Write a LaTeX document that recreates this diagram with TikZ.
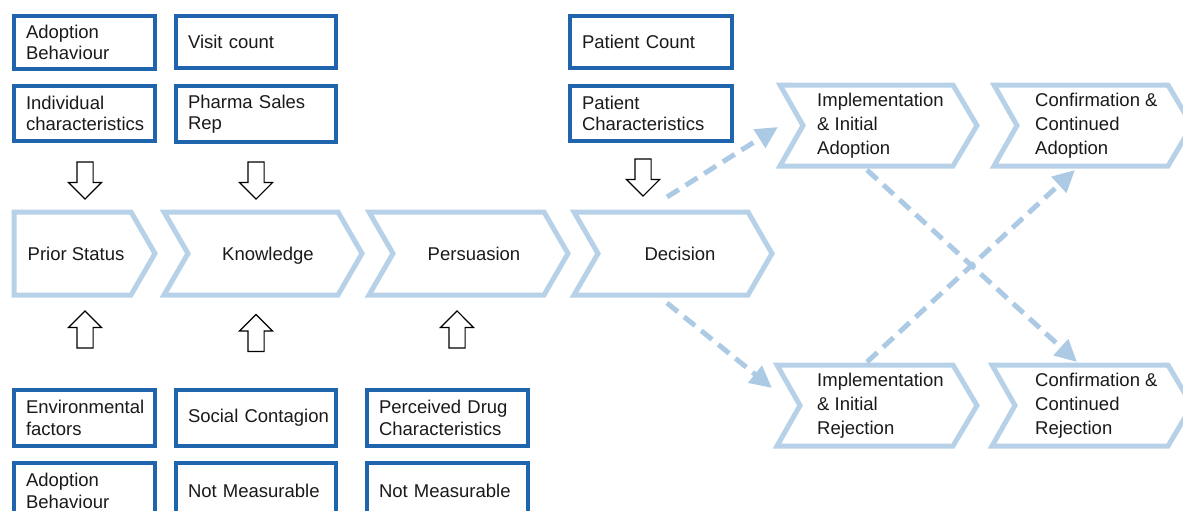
\documentclass[tikz,border=0pt]{standalone}
\usepackage{fontspec}
\setmainfont{Liberation Sans}
\usetikzlibrary{arrows.meta,shapes.arrows}
\definecolor{boxblue}{HTML}{1F64AD}
\definecolor{chevblue}{HTML}{B7D1E8}
\definecolor{dashblue}{HTML}{ADCAE4}
\definecolor{inktext}{HTML}{1A1A1A}

% chevron outline: left, right, top, bottom, depth of the left notch (0 = flat)
\newcommand\chevronpath[5]{%
  \draw[chevline] (#1,#3) -- ({#2-24},#3) -- (#2,{(#3+#4)/2})
    -- ({#2-24},#4) -- (#1,#4) -- ({#1+#5},{(#3+#4)/2}) -- cycle;}

\begin{document}
\begin{tikzpicture}[x=1pt,y=-1pt,
  chevline/.style={draw=chevblue, line width=5pt, fill=white, line join=miter},
  chevtext/.style={inner sep=0pt, align=left, text=inktext,
    font=\fontsize{18.5}{24}\selectfont},
  factbox/.style={draw=boxblue, line width=4pt, fill=white, anchor=north west,
    inner xsep=12pt, inner ysep=0pt, align=left, text=inktext,
    font=\fontsize{18.5}{21.5}\selectfont,
    execute at begin node={\hyphenpenalty=10000\exhyphenpenalty=10000\hfuzz=20pt}},
  blockarrow/.style={single arrow, draw=black, fill=white, line width=1.1pt,
    minimum height=37pt, minimum width=32pt, single arrow head extend=8.5pt,
    inner sep=7.5pt},
  dasharrow/.style={draw=dashblue, line width=5pt, dash pattern=on 14pt off 8pt,
    -{Triangle[length=22pt,width=21pt]}}]
\useasboundingbox (0,0) rectangle (1183,511);
\begin{scope}
\clip (0,0) rectangle (1183,511);

% stage chevrons
\chevronpath{14}{155}{212}{295}{0}
\chevronpath{164}{362}{212}{295}{24}
\chevronpath{369}{568}{212}{295}{24}
\chevronpath{574}{772}{212}{295}{24}
\chevronpath{780}{977}{85}{166}{23}
\chevronpath{994}{1192}{85}{166}{23}
\chevronpath{777}{977}{365}{446}{23}
\chevronpath{992}{1192}{365}{446}{23}

\node[chevtext, anchor=base] (prior) at (76,260) {Prior Status};
\node[chevtext, anchor=base] (know) at (268,260) {Knowledge};
\node[chevtext, anchor=base] (pers) at (474,260) {Persuasion};
\node[chevtext, anchor=base] (dec) at (680,260) {Decision};
\node[chevtext, anchor=west] (implA) at (817,126) {Implementation\\\& Initial\\Adoption};
\node[chevtext, anchor=west] (confA) at (1035,126) {Confirmation \&\\Continued\\Adoption};
\node[chevtext, anchor=west] (implR) at (817,406) {Implementation\\\& Initial\\Rejection};
\node[chevtext, anchor=west] (confR) at (1035,406) {Confirmation \&\\Continued\\Rejection};

% measured factors
\node[factbox, minimum width=141pt, minimum height=53pt, text width=117pt] (bhvA) at (12,14) {Adoption\\Behaviour};
\node[factbox, minimum width=160pt, minimum height=52pt, text width=136pt] (visit) at (174,14) {Visit count};
\node[factbox, minimum width=162pt, minimum height=52pt, text width=138pt] (pcount) at (568,14) {Patient Count};
\node[factbox, minimum width=141pt, minimum height=55pt, text width=117pt] (indiv) at (12,84) {Individual\\characteristics};
\node[factbox, minimum width=160pt, minimum height=56pt, text width=136pt] (pharma) at (174,84) {Pharma Sales\\Rep};
\node[factbox, minimum width=162pt, minimum height=55pt, text width=138pt] (pchar) at (568,84) {Patient\\Characteristics};
\node[factbox, minimum width=141pt, minimum height=56pt, text width=117pt] (env) at (12,388) {Environmental\\factors};
\node[factbox, minimum width=160pt, minimum height=56pt, text width=136pt] (social) at (174,388) {\mbox{Social Contagion}};
\node[factbox, minimum width=161pt, minimum height=56pt, text width=137pt] (perc) at (365,388) {Perceived Drug\\Characteristics};
\node[factbox, minimum width=141pt, minimum height=56pt, text width=117pt] (bhvB) at (12,461) {Adoption\\Behaviour};
\node[factbox, minimum width=160pt, minimum height=56pt, text width=136pt] (nmA) at (174,461) {Not Measurable};
\node[factbox, minimum width=161pt, minimum height=56pt, text width=137pt] (nmB) at (365,461) {Not Measurable};

% influence arrows
\node[blockarrow, shape border rotate=270] (dnA) at (85,176.5) {};
\node[blockarrow, shape border rotate=270] (dnB) at (256,176.5) {};
\node[blockarrow, shape border rotate=270] (dnC) at (643,173.5) {};
\node[blockarrow, shape border rotate=90] (upA) at (85,333.5) {};
\node[blockarrow, shape border rotate=90] (upB) at (256,337) {};
\node[blockarrow, shape border rotate=90] (upC) at (457,333.5) {};

% outcome paths
\coordinate (d1s) at (667,197);
\coordinate (d1e) at (778,127);
\coordinate (d2s) at (667,303);
\coordinate (d2e) at (772,388);
\coordinate (d3s) at (867,170);
\coordinate (d3e) at (1077,362);
\coordinate (d4s) at (867,362);
\coordinate (d4e) at (1075,170);
\draw[dasharrow] (d1s) -- (d1e);
\draw[dasharrow] (d2s) -- (d2e);
\draw[dasharrow] (d3s) -- (d3e);
\draw[dasharrow] (d4s) -- (d4e);
\end{scope}
\end{tikzpicture}
\end{document}
